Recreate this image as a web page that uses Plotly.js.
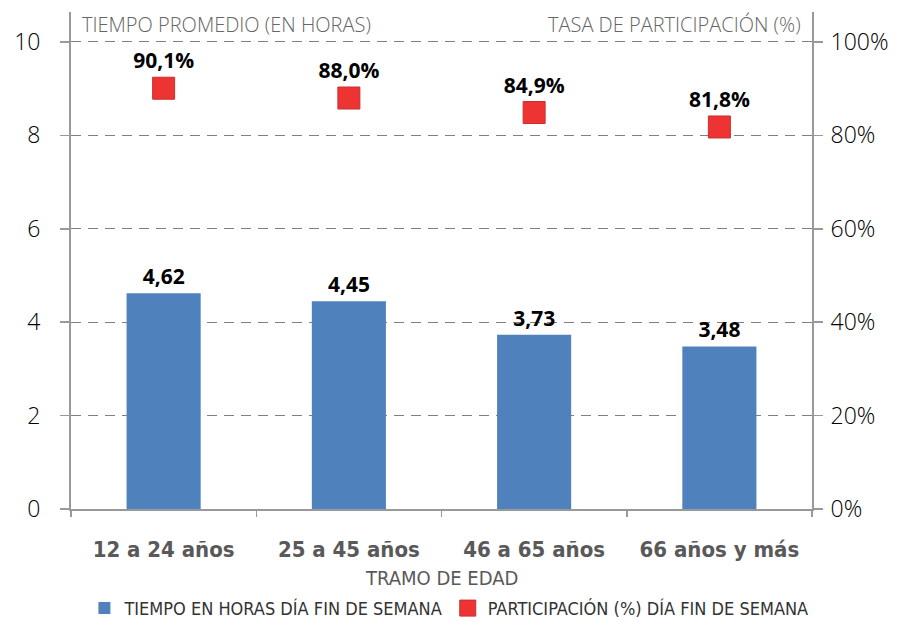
<!DOCTYPE html>
<html><head><meta charset="utf-8">
<script src="https://cdn.plot.ly/plotly-3.0.1.min.js"></script>
<style>html,body{margin:0;padding:0;background:#fff}#chart{width:919px;height:622px}</style>
</head><body><div id="chart"></div>
<script>
const categories = ["12 a 24 años", "25 a 45 años", "46 a 65 años", "66 años y más"];
const hours = [4.62, 4.45, 3.73, 3.48];
const participation = [90.1, 88.0, 84.9, 81.8];
const leftTicks = [0, 2, 4, 6, 8, 10];
const rightTicks = [0, 20, 40, 60, 80, 100];
const rightTickText = ["0%", "20%", "40%", "60%", "80%", "100%"];

const condensed = '"Liberation Sans Narrow", "DejaVu Sans Condensed", "Roboto", sans-serif';
const regular = '"Open Sans", "Noto Sans", sans-serif';

const traces = [
  {
    type: 'bar', x: categories, y: hours, name: 'TIEMPO EN HORAS DÍA FIN DE SEMANA',
    width: 0.4, marker: {color: '#4F81BD'},
    texttemplate: '%{y:.2f}', textposition: 'outside', cliponaxis: false,
    textfont: {family: regular, size: 21, color: '#000', weight: 700},
    hoverinfo: 'skip'
  },
  {
    type: 'scatter', mode: 'markers+text', x: categories, y: participation, yaxis: 'y2',
    name: 'PARTICIPACIÓN (%) DÍA FIN DE SEMANA',
    marker: {symbol: 'square', size: 22, color: '#EE3333', line: {color: '#C83030', width: 1}},
    texttemplate: '%{y:.1f}%', textposition: 'top center', cliponaxis: false,
    textfont: {family: regular, size: 21, color: '#000', weight: 700},
    hoverinfo: 'skip'
  }
];

const layout = {
  width: 919, height: 622,
  margin: {l: 71, r: 107, t: 12, b: 113, autoexpand: false},
  paper_bgcolor: '#fff', plot_bgcolor: '#fff',
  separators: ',.',
  showlegend: true,
  legend: {orientation: 'h', x: 0.51, xanchor: 'center', y: -0.2, yanchor: 'middle',
    font: {family: condensed, size: 18, color: '#333'}, tracegroupgap: 0},
  xaxis: {
    type: 'category', range: [-0.5, 3.5], tickson: 'boundaries', automargin: false,
    ticks: 'outside', ticklen: 6, tickwidth: 1.5, tickcolor: '#999',
    showline: true, linecolor: '#999', linewidth: 1.5,
    showgrid: false, zeroline: false,
    ticklabelstandoff: 20,
    tickfont: {family: condensed, size: 22, color: '#595959', weight: 700}
  },
  yaxis: {
    range: [0, 10.642], tickmode: 'array', tickvals: leftTicks, automargin: false,
    ticks: 'outside', ticklen: 9, tickwidth: 1.5, tickcolor: '#999',
    showline: true, linecolor: '#999', linewidth: 2,
    showgrid: true, gridcolor: '#808080', gridwidth: 1, griddash: '10px,7px',
    zeroline: false, ticklabelstandoff: 15,
    tickfont: {family: regular, size: 23, color: '#000', weight: 300}
  },
  yaxis2: {
    overlaying: 'y', side: 'right', range: [0, 106.42], tickmode: 'array',
    tickvals: rightTicks, ticktext: rightTickText, automargin: false,
    ticks: 'outside', ticklen: 9, tickwidth: 1.5, tickcolor: '#999',
    showline: true, linecolor: '#999', linewidth: 2,
    showgrid: false, zeroline: false, ticklabelstandoff: 3,
    tickfont: {family: regular, size: 23, color: '#000', weight: 300}
  },
  annotations: [
    {text: 'TIEMPO PROMEDIO (EN HORAS)', xref: 'paper', yref: 'paper', x: 0.012, y: 1.006,
     xanchor: 'left', yanchor: 'top', showarrow: false,
     font: {family: regular, size: 20, color: '#666', weight: 300}},
    {text: 'TASA DE PARTICIPACIÓN (%)', xref: 'paper', yref: 'paper', x: 0.988, y: 1.006,
     xanchor: 'right', yanchor: 'top', showarrow: false,
     font: {family: regular, size: 20, color: '#666', weight: 300}},
    {text: 'TRAMO DE EDAD', xref: 'paper', yref: 'paper', x: 0.5, y: -0.139,
     xanchor: 'center', yanchor: 'middle', showarrow: false,
     font: {family: condensed, size: 20, color: '#595959'}}
  ]
};

Plotly.newPlot('chart', traces, layout, {displayModeBar: false, staticPlot: true});
</script></body></html>
